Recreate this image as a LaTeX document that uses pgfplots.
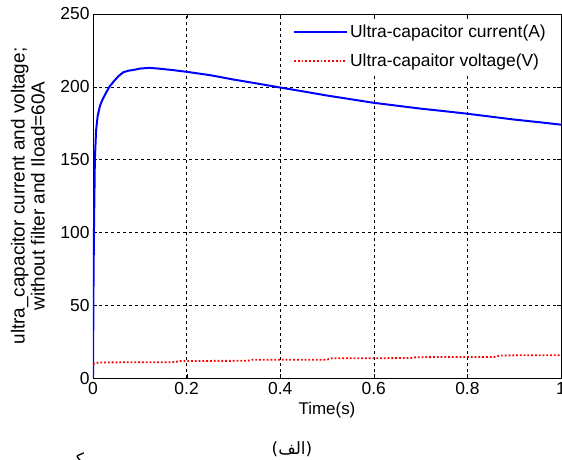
\documentclass[border=0pt]{standalone}
\usepackage{pgfplots}
\pgfplotsset{compat=1.18}
\usepackage{fontspec}
\setmainfont{Liberation Sans}
\newfontfamily\arabicfont[Script=Arabic]{DejaVu Sans}
\TeXXeTstate=1
\begin{document}
\begin{tikzpicture}
\begin{axis}[
  name=ax,
  at={(0,0)}, anchor=south west,
  scale only axis,
  width=468bp, height=364bp,
  xmin=0, xmax=1, ymin=0, ymax=250,
  xtick={0,0.2,0.4,0.6,0.8,1},
  xticklabels={0,0.2,0.4,0.6,0.8,1},
  ytick={0,50,100,150,200,250},
  grid=major,
  major grid style={black, dashed, line width=0.5pt},
  axis line style={black, line width=0.8pt},
  tick style={black},
  major tick length=4bp,
  tick align=inside,
  ticklabel style={font=\fontsize{17.5}{20}\selectfont},
  xticklabel style={yshift=-1bp},
  /pgf/number format/assume math mode=true,
  xlabel={Time(s)},
  xlabel style={font=\fontsize{17}{20}\selectfont, at={(axis description cs:0.5,0)}, anchor=center, yshift=-32bp},
  ylabel={ultra\_capacitor current and voltage;\\without filter and Iload=60A},
  ylabel style={font=\fontsize{19}{20}\selectfont, align=center, at={(axis description cs:-0.139,0.5)}, anchor=center},
  legend style={at={(axis description cs:1,1)}, anchor=north east, draw=none, fill=white,
    font=\fontsize{17.5}{20}\selectfont, inner xsep=4bp, inner ysep=4bp, row sep=11bp,
    xshift=-9bp, yshift=-5bp, cells={anchor=west}},
  legend image code/.code={\draw[#1] (0bp,0bp) -- (53bp,0bp);},
  legend cell align=left,
  clip=true,
]
\addplot[blue, line width=2pt] coordinates {
(0,0) (0.001,60) (0.002,100) (0.004,150) (0.0066,170) (0.01,180) (0.015,187) (0.02,191)
(0.028,196) (0.035,200) (0.045,204) (0.055,207.5) (0.065,210) (0.075,211) (0.09,211.8)
(0.1,212.5) (0.12,213) (0.14,212.5) (0.17,211.5) (0.2,210.3) (0.25,208) (0.3,205)
(0.35,202.3) (0.4,199.5) (0.45,196.8) (0.5,194) (0.55,191.5) (0.6,189) (0.65,187)
(0.7,185) (0.75,183.3) (0.8,181.5) (0.85,179.5) (0.9,177.5) (0.95,175.8) (1.0,174)
};
\addlegendentry{Ultra-capacitor current(A)}
\addplot[red, line width=1.8pt, dotted] coordinates {
(0,9.6) (0.01,10.5) (0.02,10.7) (0.1,10.8) (0.175,10.9) (0.185,11.7) (0.33,11.8)
(0.34,12.5) (0.5,12.6) (0.51,13.5) (0.68,13.7) (0.69,14.3) (0.86,14.5) (0.87,15.5) (1.0,15.7)
};
\addlegendentry{Ultra-capaitor voltage(V)}
\end{axis}
\node[font=\arabicfont\fontsize{17}{20}\selectfont] at (199bp,-71bp) {\beginR(الف)\endR};
\node[font=\arabicfont\fontsize{17}{20}\selectfont, anchor=north, inner sep=0pt] at (-14bp,-74bp) {\beginR ـک\endR};
\pgfresetboundingbox
\path[use as bounding box] (-93bp,-82bp) rectangle (469bp,378bp);
\end{tikzpicture}
\end{document}
